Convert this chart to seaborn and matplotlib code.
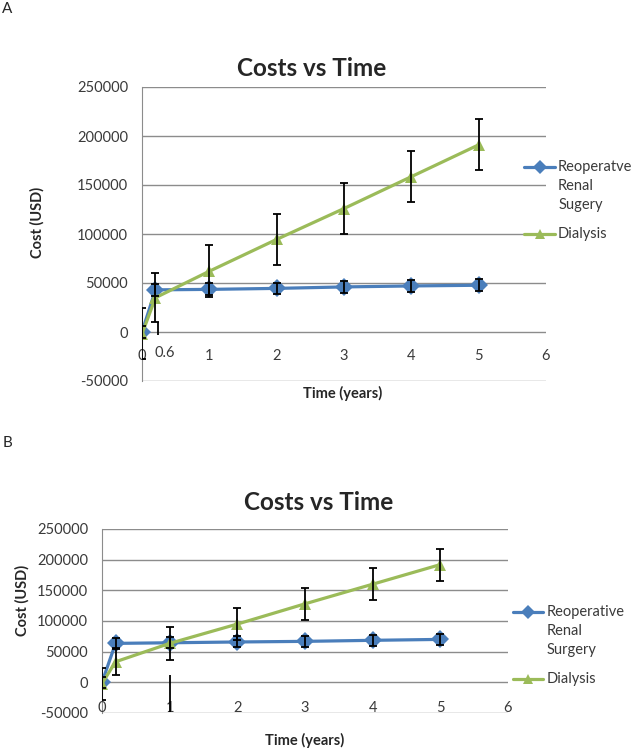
import numpy as np
import pandas as pd
import matplotlib
matplotlib.use("Agg")
import matplotlib.pyplot as plt
import seaborn as sns

# panel A data
time_a = [0, 0.2, 1, 2, 3, 4, 5]
surgery_a = [0, 43000, 43500, 44500, 46000, 47000, 47700]
surgery_err_a = [6000, 6000, 6000, 6000, 6000, 6000, 6000]
dialysis_a = [-2000, 35000, 62000, 94500, 126000, 158500, 191000]
dialysis_err_a = [26000, 25000, 26500, 26000, 26500, 26000, 26000]
stray_x_a = [0.24]
stray_lo_a = [-3000]
stray_hi_a = [10000]
xtick_pos_a = [0, 0.34, 1, 2, 3, 4, 5, 6]
xtick_lab_a = ["0", "0.6", "1", "2", "3", "4", "5", "6"]
names_a = ["Reoperatve\nRenal\nSugery", "Dialysis"]

# panel B data
time_b = [0, 0.2, 1, 2, 3, 4, 5]
surgery_b = [0, 63500, 64500, 65800, 66800, 68500, 70000]
surgery_err_b = [9000, 9000, 9000, 9000, 9000, 9000, 9000]
dialysis_b = [-2000, 33500, 63500, 95000, 128000, 160000, 192000]
dialysis_err_b = [26000, 22000, 26500, 26000, 26000, 26000, 26000]
stray_x_b = [1]
stray_lo_b = [-48000]
stray_hi_b = [12000]
xtick_pos_b = [0, 1, 2, 3, 4, 5, 6]
xtick_lab_b = ["0", "1", "2", "3", "4", "5", "6"]
names_b = ["Reoperative\nRenal\nSurgery", "Dialysis"]

y_ticks = [-50000, 0, 50000, 100000, 150000, 200000, 250000]

blue = "#4a7ebb"
green = "#9bbb59"
grid_col = "#8c8c8c"
txt_col = "#3a3a3a"

sns.set_style("white")
plt.rcParams["font.family"] = ["Lato", "DejaVu Sans"]


def draw_panel(ax, t, surg, surg_err, dial, dial_err, names,
               sx, slo, shi, legend_x, legend_y, line_step):
    df = pd.DataFrame({
        "time": t + t,
        "cost": surg + dial,
        "series": [names[0]] * len(t) + [names[1]] * len(t),
    })
    sns.lineplot(data=df, x="time", y="cost", hue="series", style="series",
                 markers={names[0]: "D", names[1]: "^"}, dashes=False,
                 palette={names[0]: blue, names[1]: green},
                 linewidth=2.3, markersize=9, markeredgewidth=0,
                 errorbar=None, legend=False, ax=ax, zorder=3)
    ax.errorbar(t, surg, yerr=surg_err, fmt="none", ecolor="black",
                elinewidth=1.3, capsize=3, capthick=1.3, zorder=5)
    ax.errorbar(t, dial, yerr=dial_err, fmt="none", ecolor="black",
                elinewidth=1.3, capsize=3, capthick=1.3, zorder=5)
    ax.vlines(sx, slo, shi, color="black", lw=1.3, zorder=5)

    ax.set_xlim(0, 6)
    ax.set_ylim(-50000, 250000)
    ax.set_yticks(y_ticks)
    ax.set_yticklabels([str(v) for v in y_ticks])
    ax.set_xticks([])
    ax.tick_params(axis="y", length=0, pad=10, labelsize=10.5, labelcolor=txt_col)
    ax.grid(axis="y", color=grid_col, lw=1)
    ax.set_axisbelow(True)
    for s in ["top", "right", "bottom"]:
        ax.spines[s].set_visible(False)
    ax.spines["left"].set_color(grid_col)
    ax.set_xlabel("")
    ax.set_ylabel("")

    # legend, handle on the first line of each entry
    y = legend_y
    for name, col, mk in [(names[0], blue, "D"), (names[1], green, "^")]:
        ax.plot([legend_x[0], (legend_x[0] + legend_x[1]) / 2, legend_x[1]],
                [y, y, y], color=col, lw=2.3, marker=mk, markevery=[1],
                markersize=7, mew=0, transform=ax.transAxes, clip_on=False)
        for i, line in enumerate(name.split("\n")):
            ax.text(legend_x[2], y - i * line_step, line, transform=ax.transAxes,
                    va="center", ha="left", fontsize=10.5, color=txt_col)
        y -= (len(name.split("\n")) - 1) * line_step + line_step * 1.55


fig = plt.figure(figsize=(6.37, 7.5), dpi=100)
W, H = 637, 750

ax_a = fig.add_axes([142 / W, 1 - 381 / H, 404 / W, 294 / H])
draw_panel(ax_a, time_a, surgery_a, surgery_err_a, dialysis_a, dialysis_err_a,
           names_a, stray_x_a, stray_lo_a, stray_hi_a,
           (0.946, 1.022, 1.030), 0.728, 19 / 294)
for x, lab in zip(xtick_pos_a, xtick_lab_a):
    off = -25 if lab == "0.6" else -28
    ax_a.annotate(lab, xy=(x, 0), xytext=(0, off), textcoords="offset pixels",
                  ha="center", va="baseline", fontsize=10.5, color=txt_col)

ax_b = fig.add_axes([102 / W, 1 - 713 / H, 406 / W, 184 / H])
draw_panel(ax_b, time_b, surgery_b, surgery_err_b, dialysis_b, dialysis_err_b,
           names_b, stray_x_b, stray_lo_b, stray_hi_b,
           (1.012, 1.086, 1.096), 0.549, 19 / 184)
for x, lab in zip(xtick_pos_b, xtick_lab_b):
    ax_b.annotate(lab, xy=(x, -50000), xytext=(0, 1), textcoords="offset pixels",
                  ha="center", va="baseline", fontsize=10.5, color=txt_col)

# titles and axis labels
fig.text(312 / W, 1 - 68 / H, "Costs vs Time", ha="center", va="center",
         fontsize=17.5, fontweight="bold")
fig.text(319 / W, 1 - 503 / H, "Costs vs Time", ha="center", va="center",
         fontsize=17.5, fontweight="bold")
fig.text(343 / W, 1 - 393 / H, "Time (years)", ha="center", va="center",
         fontsize=10.5, fontweight="bold")
fig.text(305 / W, 1 - 740 / H, "Time (years)", ha="center", va="center",
         fontsize=10.5, fontweight="bold")
fig.text(37 / W, 1 - 222 / H, "Cost (USD)", ha="center", va="center",
         rotation=90, fontsize=10.5, fontweight="bold")
fig.text(22 / W, 1 - 600 / H, "Cost (USD)", ha="center", va="center",
         rotation=90, fontsize=10.5, fontweight="bold")
fig.text(7 / W, 1 - 9 / H, "A", ha="center", va="center", fontsize=11)
fig.text(7 / W, 1 - 443 / H, "B", ha="center", va="center", fontsize=11)

fig.savefig("out.png", dpi=100)
